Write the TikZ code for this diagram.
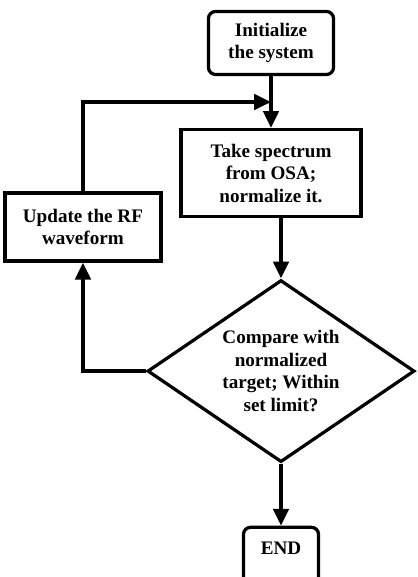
\documentclass[tikz,border=0pt]{standalone}
\usepackage{fontspec}
\setmainfont{Liberation Serif}
\usetikzlibrary{arrows.meta, shapes.geometric, positioning, calc}

\begin{document}
\begin{tikzpicture}[x=0.025cm,y=-0.025cm,auto,
        line width=2.3pt,
        font=\fontsize{13.6}{16}\selectfont\bfseries,
        proc node/.style={rectangle,draw,align=center,inner sep=2pt},
        term node/.style={rectangle,draw,rounded corners=5pt,align=center,inner sep=2pt},
        dec node/.style={diamond,draw,aspect=1.47,align=center,inner sep=1pt,
          minimum width=6.675cm,minimum height=4.55cm},
        arr/.style={-{Triangle[length=12pt,width=11pt]}}]
        \useasboundingbox (0,0) rectangle (417,577);

        \node[term node,minimum width=3.125cm,minimum height=1.575cm] (init) at (271,43) {Initialize\\the system};
        \node[proc node,minimum width=4.5cm,minimum height=2.175cm] (take) [below of=init,node distance=3.25cm] {Take spectrum\\from OSA;\\normalize it.};
        \node[dec node] (cmp) [below of=take,node distance=4.95cm,xshift=0.25cm] {Compare with\\normalized\\target; Within\\set limit?};
        \node[term node,minimum width=1.875cm,text height=0.6cm,text depth=0.7cm] (fin) [below of=cmp,node distance=4.625cm] {END};
        \node[proc node,minimum width=3.9cm,minimum height=1.7cm] (upd) [left of=take,node distance=4.7cm,yshift=-1.35cm] {Update the RF\\waveform};

        \coordinate (join) at ($(init.south)!0.5!(take.north)$);

        \draw[arr] (init) -- (take);
        \draw[arr] (upd.north) |- (join);
        \draw[arr] (take.south -| cmp.north) -- (cmp.north);
        \draw[arr] (cmp.west) -| (upd.south);
        \draw[arr] (cmp) -- (fin);
\end{tikzpicture}
\end{document}
